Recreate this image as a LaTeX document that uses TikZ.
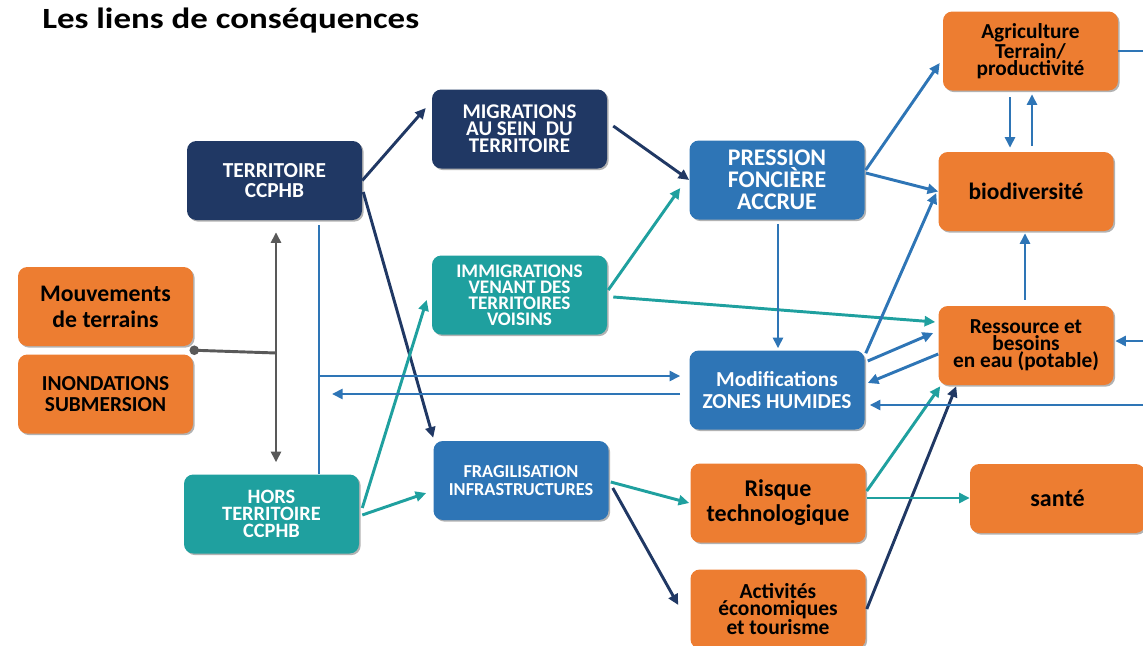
\documentclass[tikz,border=0pt]{standalone}
\usepackage{fontspec}
\usepackage{graphicx}
\setmainfont{Carlito}
\usetikzlibrary{arrows.meta,calc,shadows}
\definecolor{navy}{HTML}{203864}
\definecolor{cblue}{HTML}{2E75B6}
\definecolor{cteal}{HTML}{1FA09F}
\definecolor{corange}{HTML}{ED7D31}
\definecolor{cgray}{HTML}{595959}
\begin{document}
\begin{tikzpicture}[x=0.75pt,y=-0.75pt,
  box/.style={rounded corners=7pt, minimum width=131.25pt, minimum height=59.25pt,
    inner sep=0pt, align=center,
    drop shadow={shadow xshift=1.2pt,shadow yshift=-1.2pt,opacity=0.3,fill=black}},
  navybox/.style={box, fill=navy, text=white},
  bluebox/.style={box, fill=cblue, text=white},
  tealbox/.style={box, fill=cteal, text=white},
  orangebox/.style={box, fill=corange, text=black},
  conn/.style={line width=2.2pt},
  arr/.style={conn, -{Triangle[length=8pt,width=7.5pt]}},
  navyarr/.style={arr, draw=navy},
  bluearr/.style={arr, draw=cblue},
  tealarr/.style={arr, draw=cteal},
  blueline/.style={conn, draw=cblue},
  grayline/.style={conn, draw=cgray},
  grayarr/.style={conn, draw=cgray, {Triangle[length=8pt,width=7.5pt]}-{Triangle[length=8pt,width=7.5pt]}}
]
\useasboundingbox (0,0) rectangle (1143,646);

\node[anchor=base west, inner sep=0pt, font=\fontsize{22}{26}\selectfont\bfseries] (title) at (42,28) {\scalebox{1.19}[1]{Les liens de conséquences}};

% boxes
\node[navybox, font=\fontsize{16}{15}\selectfont\bfseries] (terr) at (274.5,180.5) {TERRITOIRE\\CCPHB};
\node[navybox, font=\fontsize{15.7}{12.75}\selectfont\bfseries] (migr) at (519.5,129) {MIGRATIONS\\AU SEIN\ \ DU\\TERRITOIRE};
\node[bluebox, font=\fontsize{17.9}{16.5}\selectfont\bfseries] (press) at (777,180) {PRESSION\\FONCIÈRE\\ACCRUE};
\node[orangebox, font=\fontsize{16}{12.75}\selectfont\bfseries] (agri) at (1030.5,51) {Agriculture\\Terrain/\\productivité};
\node[orangebox, font=\fontsize{17.6}{20}\selectfont\bfseries] (bio) at (1026,191.5) {biodiversité};
\node[tealbox, font=\fontsize{14.4}{12}\selectfont\bfseries] (immig) at (519.5,295) {IMMIGRATIONS\\VENANT DES\\TERRITOIRES\\VOISINS};
\node[orangebox, font=\fontsize{17.8}{19.5}\selectfont\bfseries] (mouv) at (105.5,306.5) {Mouvements\\de terrains};
\node[orangebox, font=\fontsize{16}{15.75}\selectfont\bfseries] (inond) at (105.5,394) {INONDATIONS\\SUBMERSION};
\node[orangebox, font=\fontsize{16}{12.75}\selectfont\bfseries] (ress) at (1026,345.5) {Ressource et\\besoins\\en eau (potable)};
\node[bluebox, font=\fontsize{16}{16}\selectfont\bfseries] (modif) at (777,390) {Modifications\\ZONES HUMIDES};
\node[tealbox, font=\fontsize{15.3}{12.75}\selectfont\bfseries] (hors) at (271.5,514) {HORS\\TERRITOIRE\\CCPHB};
\node[bluebox, font=\fontsize{13.7}{13.5}\selectfont\bfseries] (frag) at (521,480.5) {FRAGILISATION\\INFRASTRUCTURES};
\node[orangebox, font=\fontsize{18}{18.75}\selectfont\bfseries] (risque) at (778,503) {Risque\\technologique};
\node[orangebox, minimum height=51.75pt, font=\fontsize{18}{20}\selectfont\bfseries] (sante) at (1057.5,498.5) {santé};
\node[orangebox, font=\fontsize{16.1}{12.75}\selectfont\bfseries] (activ) at (778,609) {Activités\\économiques\\et tourisme};

% free ends
\coordinate (rz) at (1146,405);
\coordinate (rr) at (1146,341);
\coordinate (ra) at (1146,51);
\coordinate (bj) at (319,376);
\coordinate (bl) at (332,394);
\coordinate (gj) at (276,353);
\coordinate (gd) at ($(mouv.south east)!0.5!(inond.north east)+(1,0)$);

% navy connectors
\draw[navyarr] (terr.east) -- ($(migr.west)+(-6,-21)$);
\draw[navyarr] ($(terr.east)+(1,11.5)$) -- ($(frag.north west)+(0,-3)$);
\draw[navyarr] ($(migr.east)+(6,-3)$) -- (press.west);
\draw[navyarr] ($(frag.east)+(4,7.5)$) -- ($(activ.west)+(-12,-4)$);
\draw[navyarr] ($(activ.east)+(1,0)$) -- ($(ress.south west)+(18,1)$);

% teal connectors
\draw[tealarr] ($(immig.east)+(1,-5)$) -- ($(press.west)+(-9,8)$);
\draw[tealarr] ($(immig.east)+(6,2)$) -- ($(ress.west)+(-3,-23.5)$);
\draw[tealarr] ($(hors.east)+(3,-6)$) -- ($(immig.west)+(-5,5)$);
\draw[tealarr] ($(hors.east)+(3,1)$) -- ($(frag.west)+(-7,12.5)$);
\draw[tealarr] ($(frag.east)+(2,1.5)$) -- ($(risque.west)+(-1,0)$);
\draw[tealarr] ($(risque.east)+(1,-12)$) -- ($(ress.south west)+(2,1)$);
\draw[tealarr] ($(risque.east)+(1,-5)$) -- ($(sante.west)+(0,-0.5)$);

% blue connectors
\draw[bluearr] ($(press.south)+(1,4)$) -- ($(modif.north)+(1,-2)$);
\draw[bluearr] ($(press.east)+(1,-10)$) -- ($(agri.west)+(-3,12)$);
\draw[bluearr] ($(press.east)+(1,-7)$) -- (bio.west);
\draw[bluearr] ($(modif.north east)+(1,3)$) -- ($(bio.west)+(-2,1.5)$);
\draw[bluearr] ($(modif.east)+(3,-29)$) -- ($(ress.west)+(-5,-12.5)$);
\draw[bluearr] ($(ress.west)+(0,8.5)$) -- ($(modif.east)+(3,-7)$);
\draw[bluearr] ($(agri.south)+(-20.5,6.5)$) -- ($(bio.north)+(-16,-4)$);
\draw[bluearr] ($(bio.north)+(6,-6)$) -- ($(agri.south)+(1.5,3.5)$);
\draw[bluearr] ($(ress.north)+(-1,-6)$) -- ($(bio.south)+(-1,2)$);
\draw[bluearr] (rz) -- ($(modif.east)+(5,15)$);
\draw[bluearr] (rr) -- ($(ress.east)+(1.5,-4.5)$);
\draw[blueline] (agri.east) -- (ra);
\draw[blueline] ($(terr.south)+(44.5,5)$) -- ($(hors.north)+(47.5,0)$);
\draw[bluearr] (bj) -- ($(modif.west)+(-9,-14)$);
\draw[bluearr] ($(modif.west)+(-9,4)$) -- (bl);

% gray connectors
\draw[grayarr] ($(terr.south)+(1.5,12)$) -- ($(hors.north)+(4.5,-12)$);
\draw[grayline] (gd) -- (gj);
\fill[cgray] (gd) circle[radius=3.6pt];
\end{tikzpicture}
\end{document}
